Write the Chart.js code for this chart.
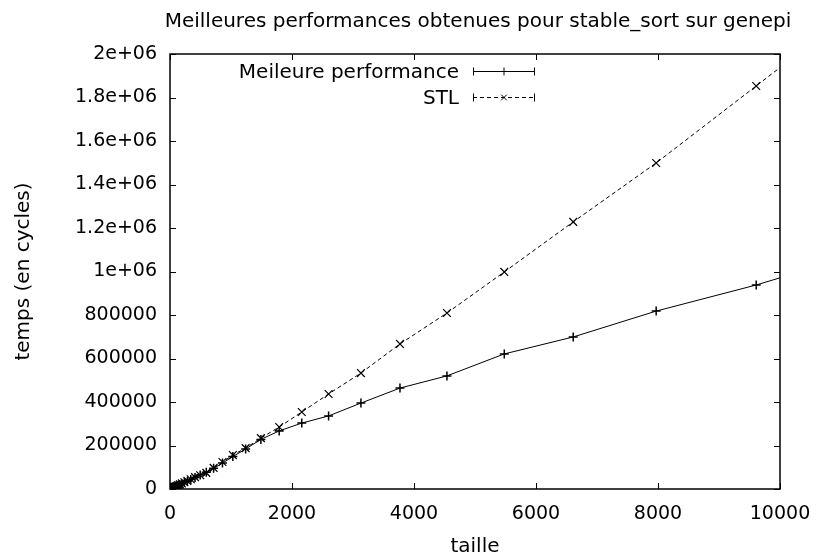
<!DOCTYPE html>
<html>
<head>
<meta charset="utf-8">
<script src="https://cdn.jsdelivr.net/npm/chart.js@4/dist/chart.umd.min.js"></script>
<style>
  html, body { margin: 0; padding: 0; background: #fff; }
  #wrap { width: 818px; height: 559px; }
</style>
</head>
<body>
<div id="wrap"><canvas id="chart"></canvas></div>
<script>
// Sizes (taille) shared by both series
const tailles = [1, 2, 3, 4, 5, 6, 7, 8, 10, 12, 14, 17, 21, 25, 30, 37, 44, 53, 64, 77,
  93, 112, 135, 162, 195, 235, 285, 340, 410, 495, 595, 715, 860, 1030, 1240, 1490,
  1790, 2160, 2600, 3130, 3770, 4540, 5480, 6610, 7970, 9610, 11530];

// Best performance, cycles
const meilleure = [150, 260, 380, 500, 620, 760, 880, 1000, 1250, 1500, 1800, 2200, 2700,
  3200, 3800, 4700, 5600, 6700, 8100, 9700, 11700, 14100, 17000, 20500, 24700, 29800,
  36200, 43500, 53000, 64500, 76500, 95000, 119000, 149000, 184000, 228000,
  267000, 303000, 336000, 395000, 464000, 520000, 621000, 699000, 818000, 938000, 1100000];

// STL stable_sort, cycles
const stl = [150, 270, 390, 510, 640, 770, 900, 1030, 1300, 1560, 1850, 2250, 2800,
  3300, 3950, 4850, 5800, 6950, 8400, 10100, 12200, 14700, 17700, 21300, 25700, 31000,
  37500, 45000, 54500, 63000, 74000, 97000, 124000, 156000, 188000, 234000,
  285000, 354000, 437000, 533000, 667000, 809000, 998000, 1228000, 1499000, 1853000, 2270000];

// Tick labels as gnuplot prints them
const xTickLabels = ['0', '2000', '4000', '6000', '8000', '10000'];
const yTickLabels = ['0', '200000', '400000', '600000', '800000', '1e+06',
  '1.2e+06', '1.4e+06', '1.6e+06', '1.8e+06', '2e+06'];

const TITLE = 'Meilleures performances obtenues pour stable_sort sur genepi';
const FONT = 'DejaVu Sans';

// Title centred over the plot box (not over the whole canvas)
const titlePlugin = {
  id: 'plotTitle',
  afterDraw(chart) {
    const { ctx, chartArea: a } = chart;
    ctx.save();
    ctx.font = '20px "' + FONT + '"';
    ctx.fillStyle = '#000';
    ctx.textAlign = 'center';
    ctx.textBaseline = 'alphabetic';
    ctx.fillText(TITLE, (a.left + a.right) / 2 + 3, 27);
    ctx.restore();
  }
};

// Box around the plot with inward ticks on all four sides (gnuplot look)
const boxPlugin = {
  id: 'box',
  afterDatasetsDraw(chart) {
    const { ctx, chartArea: a, scales } = chart;
    ctx.save();
    ctx.strokeStyle = '#000';
    ctx.lineWidth = 1.5;
    ctx.strokeRect(a.left, a.top, a.right - a.left, a.bottom - a.top);
    ctx.lineWidth = 1;
    ctx.beginPath();
    scales.x.ticks.forEach(t => {
      const px = Math.round(scales.x.getPixelForValue(t.value)) + 0.5;
      ctx.moveTo(px, a.bottom); ctx.lineTo(px, a.bottom - 6);
      ctx.moveTo(px, a.top); ctx.lineTo(px, a.top + 6);
    });
    scales.y.ticks.forEach(t => {
      const py = Math.round(scales.y.getPixelForValue(t.value)) + 0.5;
      ctx.moveTo(a.left, py); ctx.lineTo(a.left + 6, py);
      ctx.moveTo(a.right, py); ctx.lineTo(a.right - 6, py);
    });
    ctx.stroke();
    ctx.restore();
  }
};

// Key in the upper part of the plot: label on the left, sample on the right
const keyPlugin = {
  id: 'key',
  afterDraw(chart) {
    const ctx = chart.ctx;
    const rows = [71.5, 97.5];
    const x0 = 473, x1 = 535, textRight = 459;
    ctx.save();
    ctx.font = '20px "' + FONT + '"';
    ctx.textAlign = 'right';
    ctx.textBaseline = 'middle';
    ctx.fillStyle = '#000';
    chart.data.datasets.forEach((ds, i) => {
      const y = rows[i];
      ctx.fillText(ds.label, textRight, y + 1);
      ctx.strokeStyle = '#000';
      ctx.lineWidth = 1;
      ctx.setLineDash(ds.borderDash || []);
      ctx.beginPath();
      ctx.moveTo(x0, y); ctx.lineTo(x1, y);
      ctx.stroke();
      ctx.setLineDash([]);
      ctx.beginPath();
      ctx.moveTo(x0 + 0.5, y - 4); ctx.lineTo(x0 + 0.5, y + 4);
      ctx.moveTo(x1 - 0.5, y - 4); ctx.lineTo(x1 - 0.5, y + 4);
      ctx.stroke();
      Chart.helpers.drawPoint(ctx, {
        pointStyle: ds.pointStyle, radius: 4, borderWidth: 1.2
      }, (x0 + x1) / 2, y);
    });
    ctx.restore();
  }
};

new Chart(document.getElementById('chart'), {
  type: 'scatter',
  data: {
    datasets: [
      {
        label: 'Meileure performance',
        data: tailles.map((t, i) => ({ x: t, y: meilleure[i] })),
        showLine: true,
        borderColor: '#000',
        backgroundColor: '#000',
        borderWidth: 1,
        pointStyle: 'cross',
        pointRadius: 4.5,
        pointBorderWidth: 1.5,
        pointBorderColor: '#000'
      },
      {
        label: 'STL',
        data: tailles.map((t, i) => ({ x: t, y: stl[i] })),
        showLine: true,
        borderColor: '#000',
        backgroundColor: '#000',
        borderWidth: 1,
        borderDash: [4, 3],
        pointStyle: 'crossRot',
        pointRadius: 5.5,
        pointBorderWidth: 1.2,
        pointBorderColor: '#000'
      }
    ]
  },
  options: {
    responsive: true,
    maintainAspectRatio: false,
    animation: false,
    layout: { padding: { left: 0, right: 38, top: 54, bottom: 0 } },
    plugins: {
      legend: { display: false },
      tooltip: { enabled: false },
      title: { display: false }
    },
    scales: {
      x: {
        type: 'linear',
        min: 0,
        max: 10000,
        grid: { display: false, drawTicks: false },
        border: { display: false },
        ticks: {
          stepSize: 2000,
          color: '#000',
          padding: 14,
          maxRotation: 0,
          font: { family: FONT, size: 19 },
          callback: (v) => xTickLabels[Math.round(v / 2000)]
        },
        title: {
          display: true,
          text: 'taille',
          color: '#000',
          font: { family: FONT, size: 20, lineHeight: 1.2 },
          padding: { top: 0, bottom: 0 }
        },
        afterFit: (s) => { s.height = 70; s.paddingLeft = 0; s.paddingRight = 0; }
      },
      y: {
        min: 0,
        max: 2000000,
        grid: { display: false, drawTicks: false },
        border: { display: false },
        ticks: {
          stepSize: 200000,
          color: '#000',
          padding: 13,
          font: { family: FONT, size: 19 },
          callback: (v) => yTickLabels[Math.round(v / 200000)]
        },
        title: {
          display: true,
          text: 'temps (en cycles)',
          color: '#000',
          font: { family: FONT, size: 20, lineHeight: 1.2 },
          padding: { top: 12, bottom: 0 }
        },
        afterFit: (s) => { s.width = 170; s.paddingTop = 0; s.paddingBottom = 0; }
      }
    }
  },
  plugins: [boxPlugin, keyPlugin, titlePlugin]
});
</script>
</body>
</html>
